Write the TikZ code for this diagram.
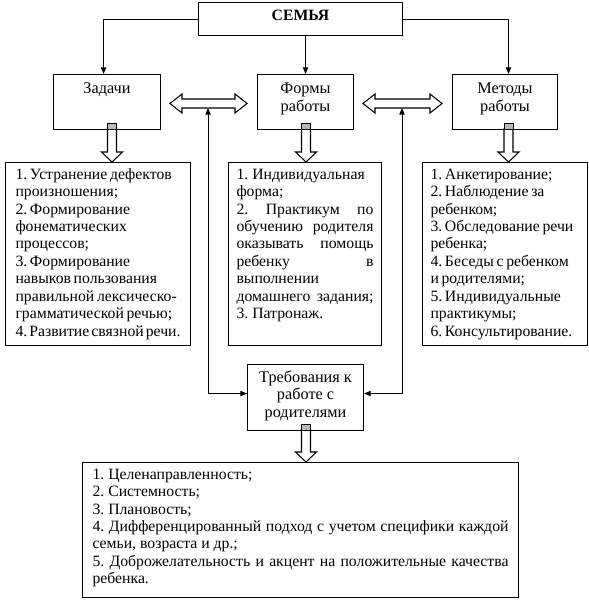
\documentclass[tikz,border=0pt]{standalone}
\usepackage{fontspec}
\setmainfont{Liberation Serif}
\usetikzlibrary{arrows.meta}
\tikzset{
  bx/.style={draw, line width=0.8pt, inner sep=0pt, fill=white, anchor=north west},
  con/.style={line width=0.7pt, -{Triangle[length=5pt,width=4pt]}},
  con2/.style={line width=0.7pt, {Triangle[length=5pt,width=4pt]}-{Triangle[length=5pt,width=4pt]}},
  hol/.style={draw, line width=0.8pt, fill=white},
  markbox/.style={draw, line width=0.6pt, fill=gray!55},
}
\frenchspacing
\newcommand\cnt[4]{\parbox[c][#1][t]{#2}{\fontsize{11.8}{13.1}\selectfont\rule{0pt}{#3}#4}}
\newcommand\bigtxt{\fontsize{12.2}{13.1}\selectfont}
\newcommand\tightsp{\spaceskip=0.17em plus 0.6em minus 0.05em\relax}
\newcommand\hdown[3]{%
  \draw[hol] (#1-4.5,#2) -- (#1-4.5,#3-10) -- (#1-10.5,#3-10) -- (#1,#3) -- (#1+10.5,#3-10) -- (#1+4.5,#3-10) -- (#1+4.5,#2) -- cycle;
  \draw[markbox] (#1-4.5,#2-6) rectangle (#1+4.5,#2);}
\newcommand\hdouble[3]{%
  \draw[hol] (#1,#3) -- (#1+12,#3-9.5) -- (#1+12,#3-4.5) -- (#2-12,#3-4.5) -- (#2-12,#3-9.5) -- (#2,#3) -- (#2-12,#3+9.5) -- (#2-12,#3+4.5) -- (#1+12,#3+4.5) -- (#1+12,#3+9.5) -- cycle;}
\begin{document}
\begin{tikzpicture}[x=0.75pt,y=-0.75pt]
\useasboundingbox (0,0) rectangle (589,600);
\fill[white] (0,0) rectangle (589,600);

\node[bx] (sem) at (198,2) {\cnt{24.75pt}{153pt}{13.2pt}{\centering\bfseries СЕМЬЯ}};
\node[bx] (zad) at (53,74) {\cnt{41.25pt}{80.25pt}{14.3pt}{\centering\bigtxt Задачи}};
\node[bx] (frm) at (257,74) {\cnt{41.25pt}{72pt}{14.3pt}{\centering\bigtxt Формы\\работы}};
\node[bx] (met) at (452,74) {\cnt{41.25pt}{78.75pt}{14.3pt}{\centering\bigtxt Методы\\работы}};

\node[bx, inner xsep=7.5pt] (l1) at (5,162) {\cnt{137.25pt}{123.75pt}{12.4pt}{\tightsp
1. Устранение дефектов\\
произношения;\\
2. Формирование\\
фонематических\\
процессов;\\
3. Формирование\\
навыков пользования\\
правильной лексическо-\\
грамматической речью;\\
4. Развитие связной речи.}};

\node[bx, inner xsep=6pt] (l2) at (228,162) {\cnt{137.25pt}{102.75pt}{12.4pt}{%
1. Индивидуальная\\
форма;\\
\makebox[\linewidth][s]{2. Практикум по}\\
\makebox[\linewidth][s]{обучению родителя}\\
\makebox[\linewidth][s]{оказывать помощь}\\
\makebox[\linewidth][s]{ребенку в}\\
выполнении\\
\makebox[\linewidth][s]{домашнего задания;}\\
3. Патронаж.}};

\node[bx, inner xsep=6pt] (l3) at (422,162) {\cnt{137.25pt}{111.75pt}{12.4pt}{\tightsp
1. Анкетирование;\\
2. Наблюдение за\\
ребенком;\\
3. Обследование речи\\
ребенка;\\
4. Беседы с ребенком\\
и родителями;\\
5. Индивидуальные\\
практикумы;\\
6. Консультирование.}};

\node[bx] (treb) at (247,364) {\cnt{49.5pt}{87pt}{13.4pt}{\centering\bigtxt Требования к\\работе с\\родителями}};

\node[bx, inner xsep=7.5pt] (req) at (82,462) {\cnt{101.25pt}{312pt}{12.4pt}{%
1. Целенаправленность;\\
2. Системность;\\
3. Плановость;\\
\makebox[\linewidth][s]{4. Дифференцированный подход с учетом специфики каждой}\\
семьи, возраста и др.;\\
\makebox[\linewidth][s]{5. Доброжелательность и акцент на положительные качества}\\
ребенка.}};

% connectors from СЕМЬЯ
\draw[con] (sem.west) -| ([xshift=-2.6pt]zad.north);
\draw[con] (sem.south -| frm.north) -- (frm.north);
\draw[con] (sem.east) -| ([xshift=2.6pt]met.north);

% double hollow arrows
\hdouble{170}{247}{103.5}
\hdouble{363}{442}{103.5}
\coordinate (da1) at (208,108);
\coordinate (da2) at (402,108);
\draw[con2] (da1) |- ([yshift=3pt]treb.west);
\draw[con2] (da2) |- ([yshift=3pt]treb.east);

% hollow down arrows
\hdown{112}{129}{162}
\hdown{306}{129}{162}
\hdown{508.5}{129}{162}
\hdown{306}{430}{462}
\end{tikzpicture}
\end{document}
